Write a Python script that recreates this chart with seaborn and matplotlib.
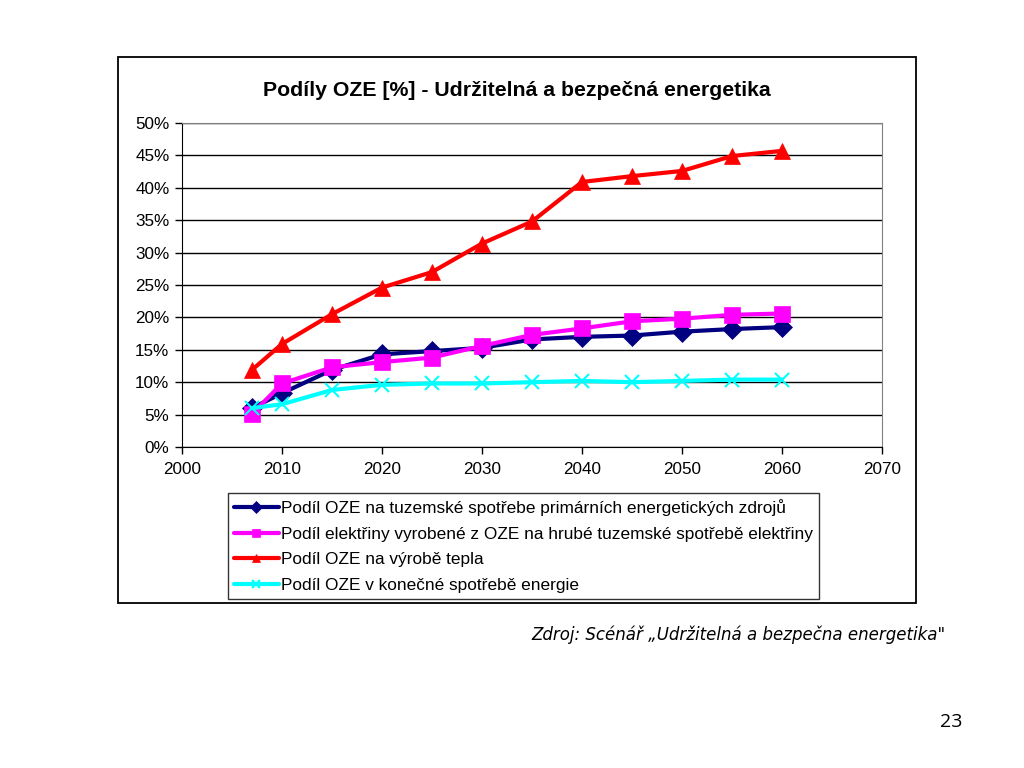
import matplotlib.pyplot as plt
import matplotlib.patches as patches
from matplotlib.lines import Line2D
from matplotlib.ticker import FuncFormatter
import pandas as pd
import seaborn as sns

sns.set_style("white")
plt.rcParams['font.family'] = ['Liberation Sans', 'DejaVu Sans']
plt.rcParams['text.color'] = 'black'
plt.rcParams['xtick.color'] = 'black'
plt.rcParams['ytick.color'] = 'black'

years = [2007, 2010, 2015, 2020, 2025, 2030, 2035, 2040, 2045, 2050, 2055, 2060]
primary = [6.0, 8.3, 11.9, 14.3, 14.8, 15.3, 16.6, 17.0, 17.2, 17.8, 18.2, 18.5]
electricity = [5.1, 9.8, 12.3, 13.1, 13.8, 15.6, 17.3, 18.3, 19.4, 19.8, 20.4, 20.6]
heat = [11.9, 15.9, 20.5, 24.6, 27.0, 31.4, 34.8, 40.9, 41.8, 42.6, 44.9, 45.7]
final = [6.0, 6.6, 8.8, 9.6, 9.8, 9.8, 10.0, 10.2, 10.0, 10.2, 10.4, 10.4]

labels = [
    "Podíl OZE na tuzemské spotřebe primárních energetických zdrojů",
    "Podíl elektřiny vyrobené z OZE na hrubé tuzemské spotřebě elektřiny",
    "Podíl OZE na výrobě tepla",
    "Podíl OZE v konečné spotřebě energie",
]
colors = ["#000080", "#FF00FF", "#FF0000", "#00FFFF"]
markers = ["D", "s", "^", "x"]
msizes = [10, 12, 12, 10]

series = [primary, electricity, heat, final]

fig = plt.figure(figsize=(10.24, 7.68), dpi=100)
fig.patch.set_facecolor("white")

# chart area frame
fig.patches.append(patches.Rectangle((118 / 1024, 1 - 603 / 768), 798 / 1024, 546 / 768,
                                     transform=fig.transFigure, fill=False,
                                     edgecolor="black", linewidth=1.3, zorder=0))

ax = fig.add_axes([182 / 1024, 1 - 447 / 768, 700 / 1024, 324 / 768])

for vals, lab, col, mk, ms in zip(series, labels, colors, markers, msizes):
    df = pd.DataFrame({"year": years, "value": vals})
    sns.lineplot(data=df, x="year", y="value", ax=ax, color=col, marker=mk,
                 markersize=ms, linewidth=3, markeredgecolor=col,
                 markeredgewidth=1.5 if mk == "x" else 0.5, label=lab, legend=False)

ax.set_xlim(2000, 2070)
ax.set_ylim(0, 50)
ax.set_xticks(range(2000, 2071, 10))
ax.set_yticks(range(0, 51, 5))
ax.yaxis.set_major_formatter(FuncFormatter(lambda v, p: f"{int(v)}%"))
ax.set_xlabel("")
ax.set_ylabel("")
ax.grid(axis="y", color="black", linewidth=1)
ax.grid(axis="x", visible=False)
ax.set_axisbelow(True)
for s in ["top", "right"]:
    ax.spines[s].set_color("#808080")
for s in ["left", "bottom"]:
    ax.spines[s].set_color("black")
ax.tick_params(axis="both", direction="out", length=5, width=1, color="black",
               labelsize=12.3, labelcolor="black", pad=4, left=True, bottom=True)
ax.tick_params(axis="x", pad=6)

fig.text(517 / 1024, 1 - 90 / 768, "Podíly OZE [%] - Udržitelná a bezpečná energetika",
         ha="center", va="center", fontsize=15.3, fontweight="bold", color="black")

handles = [Line2D([0], [0], color=c, marker=m, markersize=6, linewidth=3,
                  markeredgecolor=c, markeredgewidth=1.5 if m == "x" else 0.5)
           for c, m in zip(colors, markers)]
leg = fig.legend(handles, labels, loc="upper left",
                 bbox_to_anchor=(228 / 1024, 1 - 493 / 768),
                 fontsize=12.4, frameon=True, fancybox=False, edgecolor="black",
                 handlelength=2.6, handletextpad=0.15, labelspacing=0.62,
                 borderpad=0.35, borderaxespad=0, labelcolor="black")
leg.get_frame().set_linewidth(1)

fig.text(945 / 1024, 1 - 635 / 768, "Zdroj: Scénář „Udržitelná a bezpečna energetika\"",
         ha="right", va="center", fontsize=12, style="italic", family="DejaVu Sans",
         color="black")
fig.text(962 / 1024, 1 - 722 / 768, "23", ha="right", va="center", fontsize=14,
         family="Open Sans", color="black")

fig.savefig("out.png", dpi=100)
